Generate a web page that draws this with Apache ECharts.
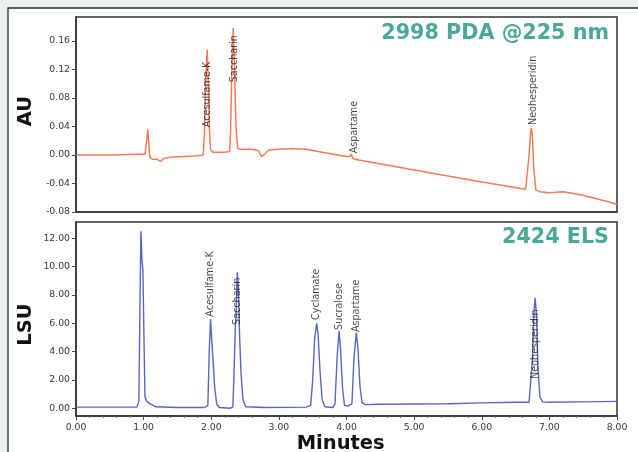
<!DOCTYPE html>
<html><head><meta charset="utf-8">
<script src="https://cdn.jsdelivr.net/npm/echarts@6/dist/echarts.min.js"></script>
<style>html,body{margin:0;padding:0;background:#e8f1ee;}#c{width:638px;height:452px;}</style>
</head><body><div id="c"></div>
<script>
// ---- data ----
const pdaTime = [0.00,0.50,0.95,1.02,1.045,1.06,1.075,1.09,1.13,1.20,1.25,1.30,1.40,1.60,1.80,1.88,
  1.90,1.92,1.94,1.955,1.97,1.99,2.02,2.20,2.27,2.285,2.305,2.325,2.345,2.365,2.39,2.42,2.60,2.70,2.74,2.78,2.85,
  3.00,3.20,3.40,3.58,4.00,4.05,4.07,4.09,4.12,5.00,6.00,6.65,6.67,6.70,6.72,6.733,6.75,6.77,6.80,6.86,
  7.00,7.20,7.40,7.60,7.80,8.00];
const pdaAU = [0.000,0.000,0.001,0.001,0.020,0.036,0.020,-0.003,-0.006,-0.006,-0.009,-0.005,-0.003,-0.002,-0.001,0.000,
  0.030,0.110,0.148,0.110,0.040,0.008,0.004,0.004,0.005,0.030,0.120,0.178,0.120,0.040,0.010,0.008,0.008,0.006,-0.002,0.000,0.007,
  0.008,0.009,0.008,0.005,-0.002,-0.002,0.0014,-0.004,-0.006,-0.021,-0.038,-0.048,-0.046,0.000,0.030,0.038,0.025,-0.020,-0.049,-0.0515,
  -0.053,-0.0515,-0.0547,-0.059,-0.064,-0.069];

const elsTime = [0.00,0.50,0.90,0.93,0.945,0.96,0.975,0.99,1.005,1.02,1.05,1.10,1.18,1.50,1.90,
  1.95,1.97,1.99,2.005,2.025,2.05,2.08,2.12,2.28,
  2.32,2.34,2.355,2.37,2.385,2.40,2.42,2.44,2.47,2.51,2.80,3.40,
  3.47,3.50,3.53,3.56,3.58,3.61,3.64,3.68,3.80,
  3.83,3.86,3.89,3.91,3.94,3.97,4.02,
  4.08,4.11,4.145,4.17,4.20,4.23,4.28,4.50,5.00,5.50,6.00,6.50,6.70,
  6.72,6.75,6.775,6.79,6.81,6.83,6.86,6.90,7.00,7.50,8.00];
const elsLSU = [0.08,0.08,0.08,0.5,7.0,12.5,10.5,9.7,5.0,0.8,0.45,0.3,0.1,0.05,0.05,
  0.2,4.0,6.3,5.0,3.5,1.5,0.3,0.05,0.0,
  0.1,3.0,5.6,7.0,9.6,8.5,5.0,2.5,0.6,0.1,0.05,0.08,
  0.2,2.0,5.0,6.0,5.2,2.5,0.6,0.1,0.05,
  0.3,3.5,5.45,4.3,1.5,0.2,0.15,
  0.3,3.5,5.34,4.2,1.5,0.4,0.25,0.28,0.3,0.32,0.38,0.42,0.42,
  0.5,3.5,7.0,7.8,6.5,3.0,0.8,0.45,0.42,0.45,0.48];

const pdaPeakNames = ['Acesulfame-K','Saccharin','Aspartame','Neohesperidin'];
const pdaPeakTime  = [1.94, 2.34, 4.12, 6.76];
const pdaPeakLabelBase = [0.039, 0.102, 0.0024, 0.042];

const elsPeakNames = ['Acesulfame-K','Saccharin','Cyclamate','Sucralose','Aspartame','Neohesperidin'];
const elsPeakTime  = [1.99, 2.39, 3.55, 3.90, 4.155, 6.80];
const elsPeakLabelBase = [6.46, 5.88, 6.23, 5.53, 5.38, 2.07];

const xTicks = {min:0, max:8, interval:1};
const auTicks = [-0.08,-0.04,0.00,0.04,0.08,0.12,0.16];
const auRange = {min:-0.08, max:0.1936};
const lsuTicks = [0,2,4,6,8,10,12];
const lsuRange = {min:-0.55, max:13.15};

const pdaTitle = '2998 PDA @225 nm';
const elsTitle = '2424 ELS';

// ---- chart ----
const zip = (a,b)=>a.map((v,i)=>[v,b[i]]);
const zip3 = (a,b,c)=>a.map((v,i)=>[v,b[i],c[i]]);
const tickFont = {fontFamily:'DejaVu Sans', fontSize:9.3, color:'#383838'};
const borderC = '#333';

const chart = echarts.init(document.getElementById('c'), null, {renderer:'canvas'});
const peakLabel = {
  show:true, formatter:p=>p.value[2], rotate:90, position:'top', distance:0,
  align:'left', verticalAlign:'middle',
  fontFamily:'DejaVu Sans', fontSize:9.6, color:'#1a1a1a'
};
const yAxisCommon = (range, ticks, gi) => ({
  type:'value', gridIndex:gi, min:range.min, max:range.max,
  axisLine:{show:true, onZero:false, lineStyle:{color:borderC, width:1.5}},
  axisTick:{show:true, length:4, customValues:ticks, lineStyle:{color:'#444'}},
  axisLabel:Object.assign({margin:6, customValues:ticks, formatter:v=>Number(v).toFixed(2)}, tickFont),
  splitLine:{show:false}
});
chart.setOption({
  backgroundColor:'#e8f1ee',
  animation:false,
  graphic:[
    {type:'rect', z:-10, shape:{x:8,y:8,width:700,height:500}, style:{fill:'#fff', stroke:'#2a2a2a', lineWidth:1.3}},
    {type:'text', z:10, x:609, y:33.5, style:{text:pdaTitle, fill:'#4aa898', font:'bold 20.7px "DejaVu Sans"', align:'right', verticalAlign:'middle', textAlign:'right', textVerticalAlign:'middle'}},
    {type:'text', z:10, x:609, y:238, style:{text:elsTitle, fill:'#4aa898', font:'bold 20.7px "DejaVu Sans"', align:'right', verticalAlign:'middle', textAlign:'right', textVerticalAlign:'middle'}},
    {type:'text', z:10, x:25.5, y:111, rotation:Math.PI/2, style:{text:'AU', fill:'#111', font:'bold 19.5px "DejaVu Sans"', align:'center', verticalAlign:'middle', textAlign:'center', textVerticalAlign:'middle'}},
    {type:'text', z:10, x:25.5, y:324.5, rotation:Math.PI/2, style:{text:'LSU', fill:'#111', font:'bold 19.5px "DejaVu Sans"', align:'center', verticalAlign:'middle', textAlign:'center', textVerticalAlign:'middle'}},
    {type:'text', z:10, x:340.7, y:443.5, style:{text:'Minutes', fill:'#111', font:'bold 19.5px "DejaVu Sans"', align:'center', verticalAlign:'middle', textAlign:'center', textVerticalAlign:'middle'}}
  ],
  grid:[
    {left:76, top:17, right:21, height:195, show:true, backgroundColor:'#fff', borderColor:borderC, borderWidth:1.5},
    {left:76, top:222, right:21, height:194, show:true, backgroundColor:'#fff', borderColor:borderC, borderWidth:1.5}
  ],
  xAxis:[
    {type:'value', gridIndex:0, min:xTicks.min, max:xTicks.max, interval:xTicks.interval,
     axisLine:{show:true, onZero:false, lineStyle:{color:borderC, width:1.5}}, axisTick:{show:false}, axisLabel:{show:false}, splitLine:{show:false}},
    {type:'value', gridIndex:1, min:xTicks.min, max:xTicks.max, interval:xTicks.interval,
     axisLine:{show:true, onZero:false, lineStyle:{color:borderC, width:1.5}},
     axisTick:{show:true, length:4, lineStyle:{color:'#444'}},
     minorTick:{show:true, splitNumber:5, length:2, lineStyle:{color:'#666'}},
     axisLabel:Object.assign({margin:7, formatter:v=>v.toFixed(2)}, tickFont), splitLine:{show:false}}
  ],
  yAxis:[ yAxisCommon(auRange, auTicks, 0), yAxisCommon(lsuRange, lsuTicks, 1) ],
  series:[
    {type:'line', xAxisIndex:0, yAxisIndex:0, data:zip(pdaTime,pdaAU), showSymbol:false, lineStyle:{color:'#f47a58', width:1.5}, z:3},
    {type:'line', xAxisIndex:1, yAxisIndex:1, data:zip(elsTime,elsLSU), showSymbol:false, lineStyle:{color:'#5b64c6', width:1.4}, z:3},
    {type:'scatter', xAxisIndex:0, yAxisIndex:0, data:zip3(pdaPeakTime,pdaPeakLabelBase,pdaPeakNames), symbolSize:0, label:peakLabel, z:5},
    {type:'scatter', xAxisIndex:1, yAxisIndex:1, data:zip3(elsPeakTime,elsPeakLabelBase,elsPeakNames), symbolSize:0, label:peakLabel, z:5}
  ]
});
</script></body></html>
